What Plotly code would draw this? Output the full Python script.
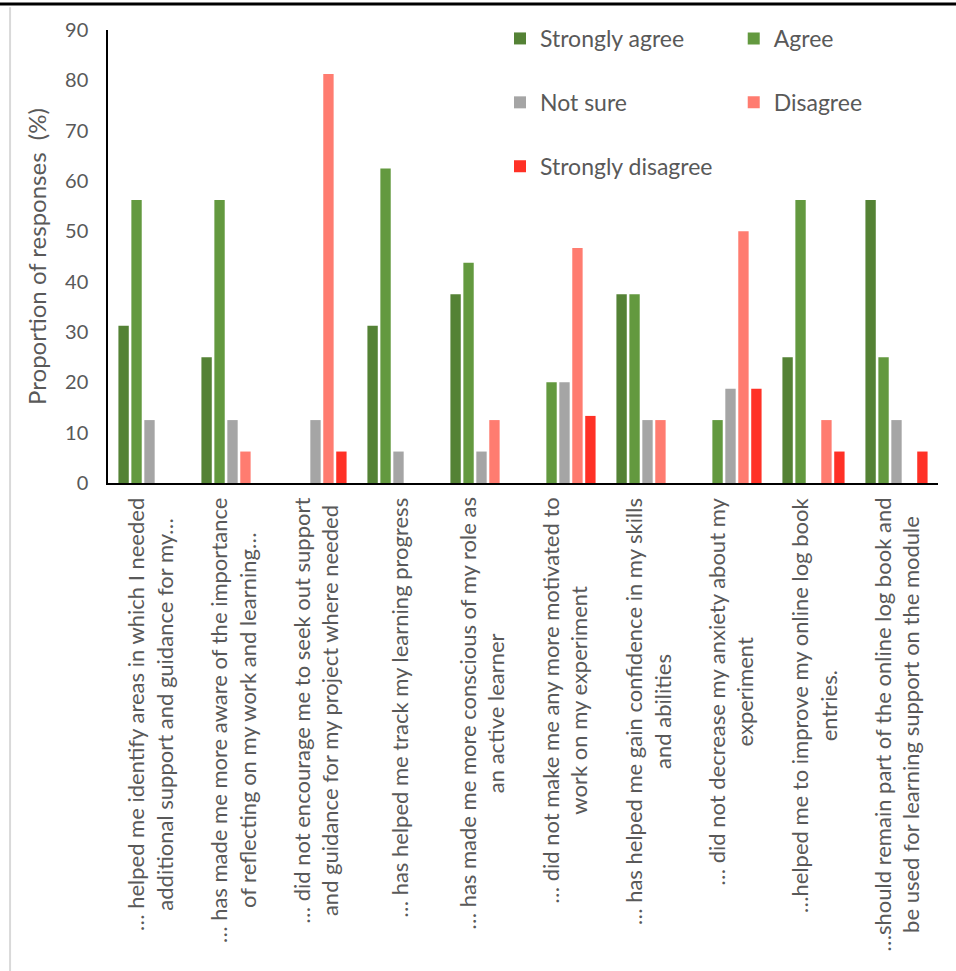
import plotly.graph_objects as go

# Survey statements (x-axis categories), two lines each
statements = [
    "… helped me identify areas in which I needed<br>additional support and guidance for my…",
    "… has made me more aware of the importance<br>of reflecting on my work and learning…",
    "… did not encourage me to seek out support<br>and guidance for my project where needed",
    "… has helped me track my learning progress",
    "… has made me more conscious of my role as<br>an active learner",
    "… did not make me any more motivated to<br>work on my experiment",
    "… has helped me gain confidence in my skills<br>and abilities",
    "… did not decrease my anxiety about my<br>experiment",
    "…helped me to improve my online log book<br>entries.",
    "…should remain part of the online log book and<br>be used for learning support on the module",
]

# Proportion of responses (%) per answer option
strongly_agree = [31.25, 25.0, 0, 31.25, 37.5, 0, 37.5, 0, 25.0, 56.25]
agree = [56.25, 56.25, 0, 62.5, 43.75, 20.0, 37.5, 12.5, 56.25, 25.0]
not_sure = [12.5, 12.5, 12.5, 6.25, 6.25, 20.0, 12.5, 18.75, 0, 12.5]
disagree = [0, 6.25, 81.25, 0, 12.5, 46.67, 12.5, 50.0, 12.5, 0]
strongly_disagree = [0, 0, 6.25, 0, 0, 13.33, 0, 18.75, 6.25, 6.25]

y_ticks = [0, 10, 20, 30, 40, 50, 60, 70, 80, 90]

FONT = "Lato, Carlito, Calibri, sans-serif"
TEXT = "#595959"

cats = list(range(len(statements)))

series = [
    ("Strongly agree", strongly_agree, "#548235", "legend", 1),
    ("Agree", agree, "#63993F", "legend2", 1),
    ("Not sure", not_sure, "#A5A5A5", "legend", 2),
    ("Disagree", disagree, "#FF7C70", "legend2", 2),
    ("Strongly disagree", strongly_disagree, "#FF3126", "legend", 3),
]

fig = go.Figure()
for name, vals, color, leg, rank in series:
    fig.add_trace(go.Bar(
        x=cats, y=vals, name=name,
        marker=dict(color=color, line=dict(width=0)),
        legend=leg, legendgroup=name, legendrank=rank,
        hovertemplate="%{y}%<extra>" + name + "</extra>",
    ))

# Category labels, rotated, lines centred on each other
for i, s in enumerate(statements):
    fig.add_annotation(
        x=i, y=0, xref="x", yref="paper", yshift=-13,
        text=s, textangle=-90, showarrow=False,
        xanchor="center", yanchor="top", align="center",
        font=dict(family=FONT, size=22, color=TEXT),
    )

legend_style = dict(
    orientation="v", yanchor="top", xanchor="left",
    xref="container", yref="container",
    font=dict(family=FONT, size=23, color=TEXT),
    bgcolor="rgba(0,0,0,0)", tracegroupgap=31,
    itemclick=False, itemdoubleclick=False,
)

fig.update_layout(
    width=956, height=971,
    margin=dict(l=108, r=18, t=30, b=488, autoexpand=False),
    paper_bgcolor="white", plot_bgcolor="white",
    barmode="group", bargap=0.22, bargroupgap=0.2,
    font=dict(family=FONT, color=TEXT),
    showlegend=True,
    legend=dict(x=0.523, y=0.9825, **legend_style),
    legend2=dict(x=0.7675, y=0.9825, **legend_style),
    xaxis=dict(
        range=[-0.5, len(statements) - 0.5],
        showticklabels=False, ticks="",
        showline=True, linecolor="black", linewidth=2,
        showgrid=False, zeroline=False, fixedrange=True,
    ),
    yaxis=dict(
        range=[0, 90], tickvals=y_ticks,
        ticks="", ticklabelstandoff=14,
        tickfont=dict(family=FONT, size=20, color=TEXT),
        showline=True, linecolor="black", linewidth=1.5,
        showgrid=False, zeroline=False, fixedrange=True,
        title=dict(text="Proportion of responses  (%)",
                   font=dict(family=FONT, size=24, color=TEXT), standoff=12),
    ),
    shapes=[
        # frame: black rule across the top, light rule on the left
        dict(type="line", xref="paper", yref="paper",
             x0=-0.2, x1=1.1, y0=1.0574, y1=1.0574,
             line=dict(color="black", width=3)),
        dict(type="line", xref="paper", yref="paper",
             x0=-0.118, x1=-0.118, y0=1.05, y1=-1.1,
             line=dict(color="#D9D9D9", width=2)),
    ],
)

fig.write_html("out.html")
